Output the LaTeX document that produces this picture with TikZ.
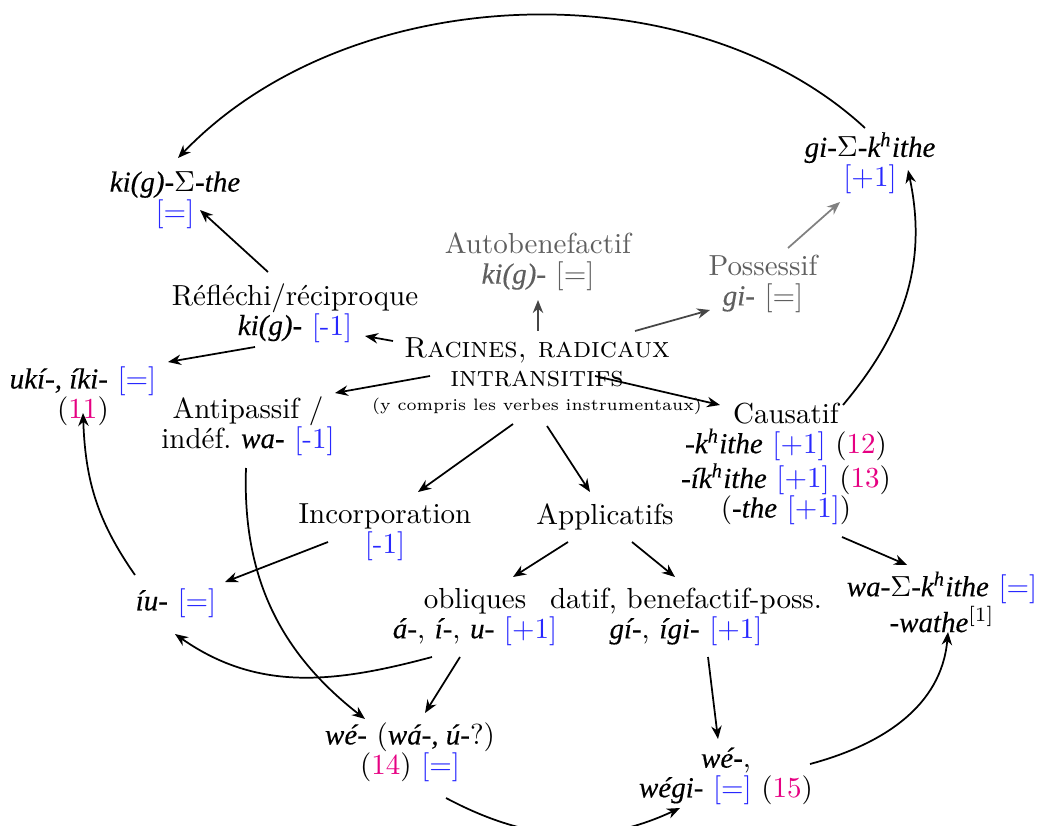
\documentclass[tikz,border=0pt]{standalone}
\usepackage{fontspec}
\usetikzlibrary{arrows.meta}
\newfontfamily\morphfont{Liberation Serif}[FakeBold=0.3]
\newcommand\mrph[1]{{\morphfont\itshape #1}}
\definecolor{blu}{RGB}{40,40,255}
\definecolor{mag}{RGB}{230,0,130}
\definecolor{gtext}{RGB}{95,95,95}
\definecolor{garrow}{RGB}{70,70,70}
\definecolor{larrow}{RGB}{128,128,128}
\newcommand\B[1]{\textcolor{blu}{#1}}
\newcommand\M[1]{\textcolor{mag}{#1}}
\newcommand\Kh{k\textsuperscript{h}}
\tikzset{
  lbl/.style={align=center, inner sep=0pt, font=\fontsize{10}{10.2}\selectfont},
  arr/.style={line width=0.6pt, -{Stealth[length=4.5pt,width=3.6pt]}},
}
\begin{document}
\begin{tikzpicture}[x=0.3448pt,y=-0.3448pt]
\useasboundingbox (0,0) rectangle (1045,826);
% nodes
\node[lbl] (kis) at (175,200) {\mrph{ki(g)-}$\Sigma$\mrph{-the}\\\B{[=]}};
\node[lbl] (gis) at (870,163) {\mrph{gi-}$\Sigma$\mrph{-\Kh ithe}\\\B{[+1]}};
\node[lbl,text=gtext] (auto) at (538,262) {Autobenefactif\\\mrph{ki(g)-} [=]};
\node[lbl,text=gtext] (poss) at (763,284) {Possessif\\\mrph{gi-} [=]};
\node[lbl] (refl) at (295,313) {Réfléchi/réciproque\\\mrph{ki(g)-} \B{[-1]}};
\node[lbl] (rac) at (537,376) {\textsc{Racines, radicaux}\\\textsc{intransitifs}\\[-2pt]{\fontsize{5.7}{6}\selectfont (y compris les verbes instrumentaux)}};
\node[lbl] (uki) at (83,396) {\mrph{ukí-, íki-} \B{[=]}\\(\M{11})};
\node[lbl] (anti) at (248,426) {Antipassif /\\indéf.\ \mrph{wa-} \B{[-1]}};
\node[lbl] (caus) at (786,464) {Causatif\\\mrph{-\Kh ithe} \B{[+1]} (\M{12})\\\mrph{-í\Kh ithe} \B{[+1]} (\M{13})\\(\mrph{-the} \B{[+1]})};
\node[lbl] (inc) at (385,532) {Incorporation\\\B{[-1]}};
\node[lbl] (appl) at (605,517) {Applicatifs};
\node[lbl] (iu) at (176,603) {\mrph{íu-} \B{[=]}};
\node[lbl] (obl) at (475,617) {obliques\\\mrph{á-}, \mrph{í-}, \mrph{u-} \B{[+1]}};
\node[lbl] (dat) at (686,617) {datif, benefactif-poss.\\\mrph{gí-}, \mrph{ígi-} \B{[+1]}};
\node[lbl] (wak) at (942,602) {\mrph{wa-}$\Sigma$\mrph{-\Kh ithe} \B{[=]}\\\mrph{-wathe}\textsuperscript{[1]}};
\node[lbl] (we) at (410,752) {\mrph{wé-} (\mrph{wá-, ú-}?)\\(\M{14}) \B{[=]}};
\node[lbl] (weg) at (726,776) {\mrph{wé-},\\\mrph{wégi-} \B{[=]} (\M{15})};
% connectors
\draw[arr] ([shift={(-5,-35)}]gis.center) .. controls +(-173,-160) and +(173,-180) .. ([shift={(3,-42)}]kis.center);
\draw[arr] ([shift={(-27,-41)}]refl.center) -- ([shift={(25,10)}]kis.center);
\draw[arr] ([shift={(-144,-35)}]rac.center) -- ([shift={(70,23)}]refl.center);
\draw[arr] ([shift={(-40,34)}]refl.center) -- ([shift={(85,-34)}]uki.center);
\draw[arr] ([shift={(-107,0)}]rac.center) -- ([shift={(87,-33)}]anti.center);
\draw[arr,garrow] ([shift={(1,-45)}]rac.center) -- ([shift={(0,38)}]auto.center);
\draw[arr,garrow] ([shift={(98,-45)}]rac.center) -- ([shift={(-53,26)}]poss.center);
\draw[arr,larrow] ([shift={(25,-36)}]poss.center) -- ([shift={(-30,39)}]gis.center);
\draw[arr] ([shift={(58,0)}]rac.center) -- ([shift={(-66,-59)}]caus.center);
\draw[arr] ([shift={(-24,48)}]rac.center) -- ([shift={(33,-40)}]inc.center);
\draw[arr] ([shift={(10,50)}]rac.center) -- ([shift={(-15,-25)}]appl.center);
\draw[arr] ([shift={(56,73)}]caus.center) -- ([shift={(-35,-37)}]wak.center);
\draw[arr] ([shift={(57,-59)}]caus.center) to[out=50,in=-78,looseness=1] ([shift={(38,7)}]gis.center);
\draw[arr] ([shift={(-57,10)}]inc.center) -- ([shift={(49,-21)}]iu.center);
\draw[arr] ([shift={(-37,25)}]appl.center) -- ([shift={(38,-40)}]obl.center);
\draw[arr] ([shift={(27,25)}]appl.center) -- ([shift={(-11,-40)}]dat.center);
\draw[arr] ([shift={(-41,-28)}]iu.center) to[out=125,in=-88] ([shift={(0,17)}]uki.center);
\draw[arr] ([shift={(-43,40)}]obl.center) to[out=195,in=-35] ([shift={(-1,31)}]iu.center);
\draw[arr] ([shift={(-15,40)}]obl.center) -- ([shift={(15,-39)}]we.center);
\draw[arr] ([shift={(-2,42)}]anti.center) to[out=-92,in=142] ([shift={(-45,-33)}]we.center);
\draw[arr] ([shift={(22,40)}]dat.center) -- ([shift={(-8,-37)}]weg.center);
\draw[arr] ([shift={(36,46)}]we.center) to[out=-28,in=-155] ([shift={(-46,32)}]weg.center);
\draw[arr] ([shift={(84,-12)}]weg.center) to[out=15,in=-95] ([shift={(6,30)}]wak.center);
\end{tikzpicture}
\end{document}
